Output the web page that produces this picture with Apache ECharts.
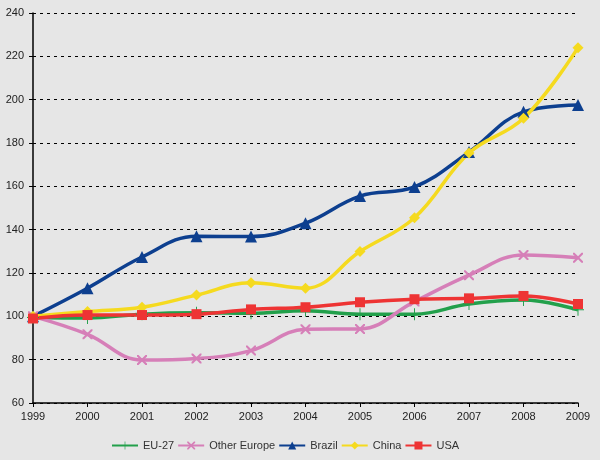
<!DOCTYPE html>
<html><head><meta charset="utf-8">
<script src="https://cdn.jsdelivr.net/npm/echarts@6/dist/echarts.min.js"></script>
<style>html,body{margin:0;padding:0;background:#e6e6e6}#c{width:600px;height:460px}</style>
</head><body><div id="c"></div>
<script>
const years = ['1999','2000','2001','2002','2003','2004','2005','2006','2007','2008','2009'];
const eu27 = [99.5, 99.2, 101, 101.6, 101.4, 102.6, 101, 101, 105.7, 107.5, 103];
const otherEurope = [100, 91.7, 79.8, 80.5, 84.2, 94, 94.2, 106.8, 119, 128.3, 127];
const brazil = [100, 113, 127.4, 137, 136.8, 143, 155.5, 159.7, 175.8, 194.4, 197.5];
const china = [100, 102.2, 104.2, 109.8, 115.5, 113, 129.9, 145.5, 175.4, 191.4, 224];
const usa = [99, 100.6, 100.6, 101, 103.2, 104.2, 106.5, 107.9, 108.3, 109.4, 105.7];

const font = 'Liberation Sans';
const symPlus = 'path://M4.6,0h0.8v4.6h4.6v0.8h-4.6v4.6h-0.8v-4.6h-4.6v-0.8h4.6z';
const symX = 'path://M0,0L1.5,0L5,3.5L8.5,0L10,0L10,1.5L6.5,5L10,8.5L10,10L8.5,10L5,6.5L1.5,10L0,10L0,8.5L3.5,5L0,1.5Z';

function mk(name, data, color, symbol, size) {
  return {
    name, type: 'line', data, smooth: 0.4,
    symbol, symbolSize: size, showSymbol: true,
    lineStyle: { color, width: 3.5 },
    itemStyle: { color },
    emphasis: { disabled: true }
  };
}

const chart = echarts.init(document.getElementById('c'));
chart.setOption({
  backgroundColor: '#e6e6e6',
  animation: false,
  grid: { left: 33, right: 22, top: 13, bottom: 57 },
  legend: {
    bottom: 4, left: 106, itemWidth: 26, itemHeight: 10, itemGap: 3,
    textStyle: { fontFamily: font, fontSize: 11, color: '#333' },
    data: ['EU-27', 'Other Europe', 'Brazil', 'China', 'USA']
  },
  xAxis: {
    type: 'category', data: years, boundaryGap: false,
    axisLine: { lineStyle: { color: '#000', width: 1.5 } },
    axisTick: { show: true, length: 4, alignWithLabel: true, lineStyle: { color: '#000' } },
    axisLabel: { fontFamily: font, fontSize: 11, color: '#222', margin: 8 },
    splitLine: { show: false }
  },
  yAxis: {
    type: 'value', min: 60, max: 240, interval: 20,
    axisLine: { show: true, lineStyle: { color: '#000', width: 1.5 } },
    axisTick: { show: true, length: 4, lineStyle: { color: '#000' } },
    axisLabel: { fontFamily: font, fontSize: 11, color: '#222', margin: 9 },
    splitLine: { show: true, lineStyle: { color: '#000', type: [3, 4], width: 1 } }
  },
  series: [
    mk('EU-27', eu27, '#22a04b', symPlus, 12),
    mk('Other Europe', otherEurope, '#d67fb8', symX, 10),
    mk('Brazil', brazil, '#0d3f8f', 'triangle', 12),
    mk('China', china, '#f5da1f', 'diamond', 11),
    mk('USA', usa, '#ee3434', 'rect', 10)
  ]
});
</script></body></html>
